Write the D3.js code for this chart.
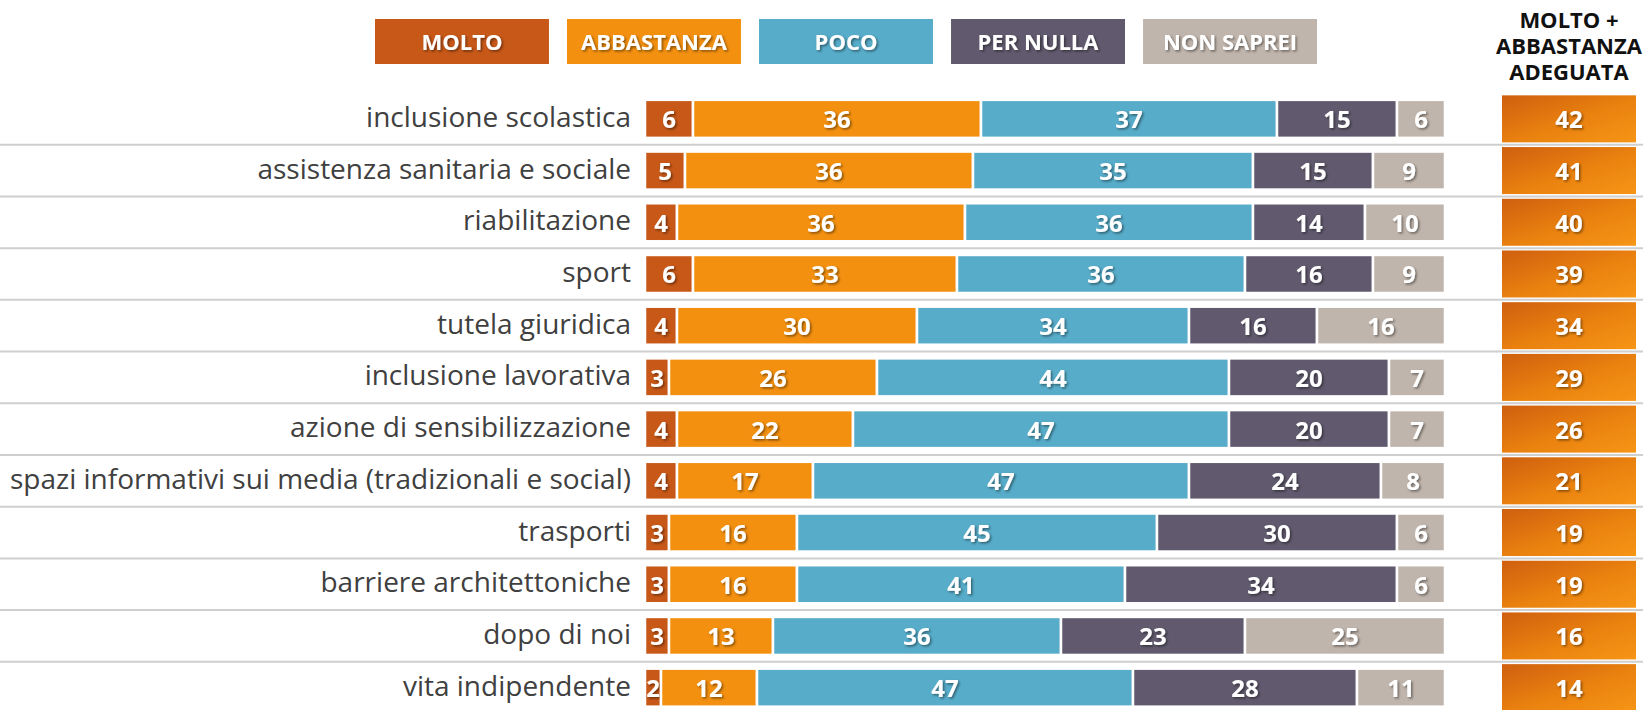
<!DOCTYPE html>
<html>
<head>
<meta charset="utf-8">
<script src="https://cdn.jsdelivr.net/npm/d3@7"></script>
<style>
  body { margin: 0; background: #fff; }
  svg { display: block; font-family: 'Open Sans', sans-serif; }
</style>
</head>
<body>
<svg width="1643" height="710"></svg>
<script>
// data
var categories = [
    'inclusione scolastica',
    'assistenza sanitaria e sociale',
    'riabilitazione',
    'sport',
    'tutela giuridica',
    'inclusione lavorativa',
    'azione di sensibilizzazione',
    'spazi informativi sui media (tradizionali e social)',
    'trasporti',
    'barriere architettoniche',
    'dopo di noi',
    'vita indipendente'
];
var seriesNames = ['MOLTO', 'ABBASTANZA', 'POCO', 'PER NULLA', 'NON SAPREI'];
var molto      = [6, 5, 4, 6, 4, 3, 4, 4, 3, 3, 3, 2];
var abbastanza = [36, 36, 36, 33, 30, 26, 22, 17, 16, 16, 13, 12];
var poco       = [37, 35, 36, 36, 34, 44, 47, 47, 45, 41, 36, 47];
var perNulla   = [15, 15, 14, 16, 16, 20, 20, 24, 30, 34, 23, 28];
var nonSaprei  = [6, 9, 10, 9, 16, 7, 7, 8, 6, 6, 25, 11];
var adeguata   = [42, 41, 40, 39, 34, 29, 26, 21, 19, 19, 16, 14];
var headerLines = ['MOLTO +', 'ABBASTANZA', 'ADEGUATA'];

var colors = ['#c75818', '#f39010', '#57acc9', '#615a6e', '#c0b5ac'];

var svg = d3.select('svg');
var svgWidth = +svg.attr('width');

// build rows for the stack
var rows = categories.map(function(c, i) {
    return {
        cat: c,
        MOLTO: molto[i],
        ABBASTANZA: abbastanza[i],
        POCO: poco[i],
        'PER NULLA': perNulla[i],
        'NON SAPREI': nonSaprei[i]
    };
});
var stacked = d3.stack().keys(seriesNames)(rows);

var xScale = d3.scaleLinear().domain([0, 100]).range([645, 1445]);
var yScale = d3.scaleBand()
    .domain(categories)
    .range([93, 713.5])
    .paddingInner(0.265)
    .paddingOuter(0.1325);
var bw = yScale.bandwidth();
var step = yScale.step();

// legend boxes are evenly spaced
var legendScale = d3.scaleBand()
    .domain(seriesNames)
    .range([375, 1317])
    .paddingInner(0.094)
    .paddingOuter(0);

// shadow for white labels
var defs = svg.append('defs');
defs.append('filter')
    .attr('id', 'shadow')
    .attr('x', '-20%').attr('y', '-20%')
    .attr('width', '140%').attr('height', '140%')
    .append('feDropShadow')
    .attr('dx', 1.5).attr('dy', 1.5)
    .attr('stdDeviation', 1)
    .attr('flood-color', '#000')
    .attr('flood-opacity', 0.45);

var grad = defs.append('linearGradient')
    .attr('id', 'sumGrad')
    .attr('x1', '0%').attr('y1', '0%')
    .attr('x2', '100%').attr('y2', '100%');
grad.append('stop').attr('offset', '0%').attr('stop-color', '#cf5f0f');
grad.append('stop').attr('offset', '55%').attr('stop-color', '#ea820f');
grad.append('stop').attr('offset', '100%').attr('stop-color', '#f69516');

// separator lines between rows
svg.append('g').selectAll('line')
    .data(categories.slice(0, categories.length - 1))
    .enter()
    .append('line')
    .attr('x1', 0)
    .attr('x2', svgWidth)
    .attr('y1', function(d) { return yScale(d) + bw + (step - bw) / 2; })
    .attr('y2', function(d) { return yScale(d) + bw + (step - bw) / 2; })
    .attr('stroke', '#cfcfcf')
    .attr('stroke-width', 2);

// category labels
svg.append('g').selectAll('text')
    .data(categories)
    .enter()
    .append('text')
    .attr('x', 631)
    .attr('y', function(d) { return yScale(d) + bw / 2 - 3; })
    .attr('text-anchor', 'end')
    .attr('dominant-baseline', 'central')
    .attr('fill', '#404040')
    .style('font-size', '28px')
    .text(function(d) { return d; });

// stacked bars
var series = svg.append('g').selectAll('g')
    .data(stacked)
    .enter()
    .append('g')
    .attr('fill', function(d, i) { return colors[i]; });

series.selectAll('rect')
    .data(function(d) { return d; })
    .enter()
    .append('rect')
    .attr('x', function(d) { return xScale(d[0]); })
    .attr('y', function(d) { return yScale(d.data.cat); })
    .attr('width', function(d) { return xScale(d[1]) - xScale(d[0]); })
    .attr('height', bw)
    .attr('stroke', '#fff')
    .attr('stroke-width', 2.5);

series.selectAll('text')
    .data(function(d) { return d; })
    .enter()
    .append('text')
    .attr('x', function(d) { return (xScale(d[0]) + xScale(d[1])) / 2; })
    .attr('y', function(d) { return yScale(d.data.cat) + bw / 2; })
    .attr('text-anchor', 'middle')
    .attr('dominant-baseline', 'central')
    .attr('fill', '#fff')
    .attr('filter', 'url(#shadow)')
    .style('font-size', '24px')
    .style('font-weight', 'bold')
    .text(function(d) { return d[1] - d[0]; });

// legend
var legend = svg.append('g').selectAll('g')
    .data(seriesNames)
    .enter()
    .append('g');
legend.append('rect')
    .attr('x', function(d) { return legendScale(d); })
    .attr('y', 19)
    .attr('width', legendScale.bandwidth())
    .attr('height', 45)
    .attr('fill', function(d, i) { return colors[i]; });
legend.append('text')
    .attr('x', function(d) { return legendScale(d) + legendScale.bandwidth() / 2; })
    .attr('y', 41)
    .attr('text-anchor', 'middle')
    .attr('dominant-baseline', 'central')
    .attr('fill', '#fff')
    .attr('filter', 'url(#shadow)')
    .style('font-size', '22px')
    .style('font-weight', 'bold')
    .text(function(d) { return d; });

// right column: molto + abbastanza
var sumX = 1502, sumW = 134;
var sumG = svg.append('g').selectAll('g')
    .data(adeguata)
    .enter()
    .append('g');
sumG.append('rect')
    .attr('x', sumX)
    .attr('y', function(d, i) { return yScale(categories[i]) - 4.5; })
    .attr('width', sumW)
    .attr('height', bw + 9)
    .attr('fill', 'url(#sumGrad)');
sumG.append('text')
    .attr('x', sumX + sumW / 2)
    .attr('y', function(d, i) { return yScale(categories[i]) + bw / 2; })
    .attr('text-anchor', 'middle')
    .attr('dominant-baseline', 'central')
    .attr('fill', '#fff')
    .attr('filter', 'url(#shadow)')
    .style('font-size', '24px')
    .style('font-weight', 'bold')
    .text(function(d) { return d; });

// header over the right column
svg.append('g').selectAll('text')
    .data(headerLines)
    .enter()
    .append('text')
    .attr('x', 1569)
    .attr('y', function(d, i) { return 28 + i * 26; })
    .attr('text-anchor', 'middle')
    .attr('fill', '#111')
    .style('font-size', '22px')
    .style('font-weight', 'bold')
    .text(function(d) { return d; });
</script>
</body>
</html>
